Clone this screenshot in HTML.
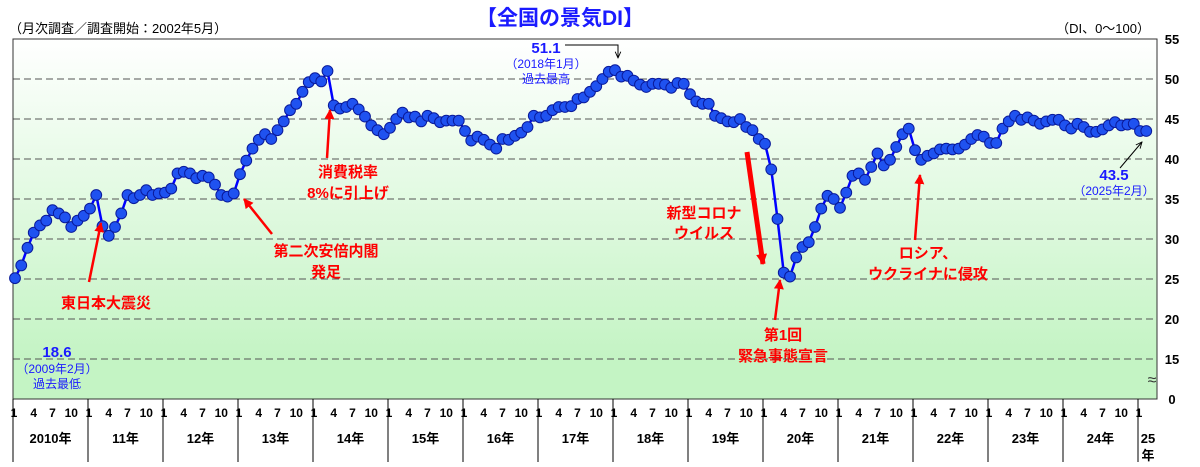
<!DOCTYPE html>
<html><head><meta charset="utf-8">
<style>
html,body{margin:0;padding:0;background:#fff;}
svg{display:block;font-family:"Liberation Sans","Noto Sans CJK JP",sans-serif;}
</style></head>
<body>
<svg id="chart" width="1200" height="467" viewBox="0 0 1200 467">
<defs>
<linearGradient id="bg" x1="0" y1="0" x2="0" y2="1">
<stop offset="0" stop-color="#ffffff"/>
<stop offset="1" stop-color="#c4f4c4"/>
</linearGradient>
<marker id="ar" viewBox="0 0 10 10" refX="9" refY="5" markerWidth="4" markerHeight="4" orient="auto-start-reverse"><path d="M0,0L10,5L0,10z" fill="#ff0000"/></marker>
<marker id="arbig" viewBox="0 0 10 10" refX="9" refY="5" markerWidth="2.2" markerHeight="2.2" orient="auto"><path d="M0,0L10,5L0,10z" fill="#ff0000"/></marker>
<marker id="arb" viewBox="0 0 10 10" refX="9" refY="5" markerWidth="7" markerHeight="7" orient="auto"><path d="M0,1L9,5L0,9" fill="none" stroke="#000" stroke-width="1.3"/></marker>
</defs>
<text x="560" y="25" text-anchor="middle" font-size="21" font-weight="bold" fill="#1a1aff">【全国の景気DI】</text>
<text x="9" y="33" font-size="13" fill="#000">（月次調査／調査開始：2002年5月）</text>
<text x="1150" y="33" text-anchor="end" font-size="13" fill="#000">（DI、0〜100）</text>
<rect x="13" y="39" width="1144" height="319" fill="url(#bg)"/>
<rect x="13" y="358" width="1144" height="41" fill="#c4f4c4"/>
<g id="grid"></g>
<rect x="13" y="39" width="1144" height="360" fill="none" stroke="#333" stroke-width="1"/>
<g id="yaxis"></g>
<text x="1152" y="385" text-anchor="middle" font-size="16" fill="#333">≈</text>
<text x="1172" y="404" text-anchor="middle" font-size="13" font-weight="bold">0</text>
<g id="xaxis"></g>
<g id="series"></g>
<g font-weight="bold" font-size="15" fill="#ff0000" text-anchor="middle">
<text x="106" y="308">東日本大震災</text>
<line x1="89" y1="282" x2="101" y2="223" stroke="#ff0000" stroke-width="2.5" marker-end="url(#ar)"/>
<text x="326" y="256">第二次安倍内閣</text>
<text x="326" y="277">発足</text>
<line x1="272" y1="234" x2="244" y2="199" stroke="#ff0000" stroke-width="2.5" marker-end="url(#ar)"/>
<text x="348" y="177">消費税率</text>
<text x="348" y="198">8%に引上げ</text>
<line x1="327" y1="158" x2="330" y2="110" stroke="#ff0000" stroke-width="2.5" marker-end="url(#ar)"/>
<text x="704" y="218">新型コロナ</text>
<text x="704" y="238">ウイルス</text>
<line x1="747" y1="152" x2="763" y2="264" stroke="#ff0000" stroke-width="5" marker-end="url(#arbig)"/>
<text x="783" y="340">第1回</text>
<text x="783" y="361">緊急事態宣言</text>
<line x1="775" y1="320" x2="780" y2="280" stroke="#ff0000" stroke-width="2.5" marker-end="url(#ar)"/>
<text x="928" y="258">ロシア、</text>
<text x="928" y="279">ウクライナに侵攻</text>
<line x1="915" y1="240" x2="920" y2="175" stroke="#ff0000" stroke-width="2.5" marker-end="url(#ar)"/>
</g>
<g fill="#1a1aff" text-anchor="middle">
<text x="546" y="53" font-size="15" font-weight="bold">51.1</text>
<text x="546" y="68" font-size="12">（2018年1月）</text>
<text x="546" y="83" font-size="12">過去最高</text>
<polyline points="565,45 618,45 618,58" fill="none" stroke="#000" stroke-width="1" marker-end="url(#arb)"/>
</g>
<g fill="#1a1aff" text-anchor="middle">
<text x="57" y="357" font-size="15" font-weight="bold">18.6</text>
<text x="57" y="373" font-size="12">（2009年2月）</text>
<text x="57" y="388" font-size="12">過去最低</text>
</g>
<g fill="#1a1aff" text-anchor="middle">
<text x="1114" y="180" font-size="15" font-weight="bold">43.5</text>
<text x="1114" y="195" font-size="12">（2025年2月）</text>
<line x1="1120" y1="168" x2="1142" y2="142" stroke="#000" stroke-width="1" marker-end="url(#arb)"/>
</g>
</svg>
<script>
const values = [
25.1,26.7,28.9,30.8,31.7,32.3,33.6,33.2,32.7,31.5,32.3,32.9,
33.8,35.5,31.6,30.4,31.5,33.2,35.5,35.1,35.5,36.1,35.5,35.7,
35.8,36.3,38.2,38.4,38.2,37.6,37.9,37.7,36.8,35.5,35.3,35.7,
38.1,39.8,41.3,42.4,43.1,42.5,43.6,44.7,46.1,46.9,48.4,49.6,
50.1,49.7,51.0,46.7,46.3,46.5,46.9,46.2,45.3,44.2,43.6,43.1,
43.9,45.0,45.8,45.2,45.3,44.7,45.4,45.1,44.6,44.8,44.8,44.8,
43.5,42.3,42.8,42.4,41.8,41.3,42.5,42.4,42.9,43.3,44.0,45.4,
45.2,45.4,46.1,46.5,46.5,46.6,47.5,47.7,48.4,49.1,50.0,50.9,
51.1,50.3,50.4,49.8,49.3,49.0,49.4,49.4,49.3,48.9,49.5,49.4,
48.1,47.2,46.9,46.9,45.4,45.1,44.7,44.6,45.0,44.0,43.6,42.5,
41.9,38.7,32.5,25.8,25.3,27.7,29.0,29.6,31.5,33.8,35.4,35.0,
33.9,35.8,37.9,38.2,37.4,39.0,40.7,39.2,39.9,41.5,43.1,43.8,
41.1,39.9,40.4,40.7,41.2,41.3,41.2,41.3,41.8,42.5,43.0,42.8,
42.0,42.0,43.8,44.7,45.4,44.9,45.2,44.8,44.4,44.7,44.9,44.9,
44.2,43.8,44.4,44.0,43.4,43.4,43.7,44.2,44.6,44.2,44.3,44.4,
43.5,43.5];
const yTicks = [15,20,25,30,35,40,45,50,55];
const yearLabels = ["2010年","11年","12年","13年","14年","15年","16年","17年","18年","19年","20年","21年","22年","23年","24年"];
const monthTicks = ["1","4","7","10"];

const NS="http://www.w3.org/2000/svg";
const X0=15, MW=6.25;
function xOf(i){return X0+i*MW;}
function yOf(v){return 79+(50-v)*8;}
function mk(tag,attrs,parent){const e=document.createElementNS(NS,tag);for(const k in attrs)e.setAttribute(k,attrs[k]);parent.appendChild(e);return e;}

const grid=document.getElementById('grid'), yaxis=document.getElementById('yaxis'), xaxis=document.getElementById('xaxis'), series=document.getElementById('series');
yTicks.forEach(t=>{
  const y=yOf(t);
  if(t<55){const l=mk('line',{x1:13,x2:1157,y1:y,y2:y,stroke:'#555','stroke-width':1,'stroke-dasharray':'7,4'},grid);
  
  }
  const tx=mk('text',{x:1172,y:y+5,'text-anchor':'middle','font-size':13,'font-weight':'bold'},yaxis);
  tx.textContent=t;
  
  
});
const Y0=13, YW=75;
for(let k=0;k<=15;k++){
  const xd=Y0+k*YW;
  const d=mk('line',{x1:xd,x2:xd,y1:399,y2:462,stroke:'#000','stroke-width':1},xaxis);
  
  
}
for(let k=0;k<15;k++){
  monthTicks.forEach((m,j)=>{
    const t=mk('text',{x:xOf(k*12+j*3)+(j===0?-1:0),y:417,'text-anchor':'middle','font-size':12,'font-weight':'bold'},xaxis);
    t.textContent=m;
    
    
  });
  const yl=mk('text',{x:Y0+k*YW+YW/2,y:443,'text-anchor':'middle','font-size':13,'font-weight':'bold'},xaxis);
  yl.textContent=yearLabels[k];
  
  
}
const t25=mk('text',{x:xOf(180)-1,y:417,'text-anchor':'middle','font-size':12,'font-weight':'bold'},xaxis);
t25.textContent="1";


const y25a=mk('text',{x:1148,y:443,'text-anchor':'middle','font-size':13,'font-weight':'bold'},xaxis);
y25a.textContent="25";


const y25b=mk('text',{x:1148,y:460,'text-anchor':'middle','font-size':13,'font-weight':'bold'},xaxis);
y25b.textContent="年";



const pl=mk('polyline',{points:values.map((v,i)=>xOf(i)+','+yOf(v)).join(' '),fill:'none',stroke:'#0000ff','stroke-width':2.5},series);


values.forEach((v,i)=>{
  const c=mk('circle',{cx:xOf(i),cy:yOf(v),r:5.4,fill:'#1f52f0',stroke:'#0a1a9a','stroke-width':1},series);
  
  
});
</script>
</body></html>
